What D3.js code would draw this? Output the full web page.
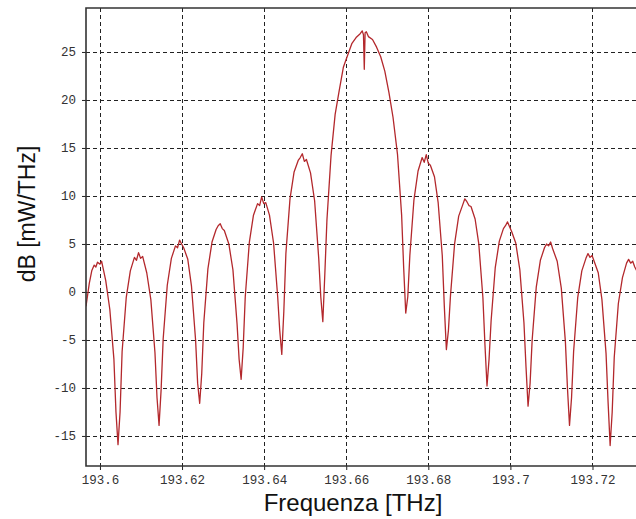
<!DOCTYPE html>
<html>
<head>
<meta charset="utf-8">
<script src="https://cdn.jsdelivr.net/npm/d3@7"></script>
<style>
  html, body { margin: 0; padding: 0; background: #fff; }
  svg { display: block; }
  .tick text { font-family: "Courier New", "Liberation Mono", monospace; font-size: 12.5px; fill: #333; }
  .title { font-family: Arial, "Liberation Sans", sans-serif; fill: #111; }
</style>
</head>
<body>
<svg id="chart" width="636" height="519"></svg>
<script>
// spectrum trace
const freqTHz = [
  193.5966, 193.5970, 193.5974, 193.5980, 193.5986, 193.5990, 193.5994, 193.6000, 193.6004, 193.6008,
  193.6014, 193.6024, 193.6034, 193.6039, 193.6044,
  193.6049, 193.6054, 193.6064, 193.6074, 193.6084, 193.6089, 193.6094, 193.6099, 193.6104, 193.6114,
  193.6124, 193.6134, 193.6139, 193.6144,
  193.6149, 193.6154, 193.6164, 193.6174, 193.6184, 193.6189, 193.6194, 193.6199, 193.6204, 193.6214,
  193.6223, 193.6233, 193.6238, 193.6243,
  193.6248, 193.6253, 193.6263, 193.6273, 193.6283, 193.6288, 193.6293, 193.6298, 193.6303, 193.6314,
  193.6324, 193.6334, 193.6339, 193.6344,
  193.6349, 193.6354, 193.6364, 193.6374, 193.6384, 193.6389, 193.6394, 193.6399, 193.6404, 193.6413,
  193.6423, 193.6433, 193.6438, 193.6443,
  193.6448, 193.6453, 193.6463, 193.6473, 193.6483, 193.6488, 193.6493, 193.6498, 193.6503, 193.6513,
  193.6523, 193.6533, 193.6538, 193.6543,
  193.6548, 193.6553, 193.6563, 193.6573, 193.6583, 193.6593, 193.6603, 193.6614, 193.6624, 193.6634,
  193.6639, 193.6642, 193.6644, 193.6646, 193.6649, 193.6654, 193.6664, 193.6674, 193.6684, 193.6694,
  193.6704, 193.6714, 193.6725, 193.6735, 193.6740, 193.6745,
  193.6750, 193.6755, 193.6765, 193.6775, 193.6785, 193.6790, 193.6795, 193.6800, 193.6805, 193.6815,
  193.6824, 193.6834, 193.6839, 193.6844,
  193.6849, 193.6854, 193.6864, 193.6874, 193.6884, 193.6889, 193.6894, 193.6899, 193.6904, 193.6914,
  193.6923, 193.6933, 193.6938, 193.6943,
  193.6948, 193.6953, 193.6963, 193.6973, 193.6983, 193.6988, 193.6993, 193.6998, 193.7003, 193.7013,
  193.7023, 193.7033, 193.7038, 193.7043,
  193.7048, 193.7053, 193.7063, 193.7073, 193.7083, 193.7088, 193.7093, 193.7098, 193.7103, 193.7114,
  193.7124, 193.7134, 193.7139, 193.7144,
  193.7149, 193.7154, 193.7164, 193.7174, 193.7184, 193.7189, 193.7194, 193.7199, 193.7204, 193.7214,
  193.7223, 193.7233, 193.7238, 193.7243,
  193.7248, 193.7253, 193.7263, 193.7273, 193.7283, 193.7288, 193.7293, 193.7298, 193.7303, 193.7308
];
const powerDb = [
  -1.5, -0.3, 0.9, 2.2, 2.8, 2.6, 3.1, 2.9, 3.2, 2.4,
  1.2, -1.8, -7.0, -12.5, -15.9,
  -12.5, -6.2, -0.6, 2.2, 3.6, 3.3, 4.1, 3.5, 3.7, 2.0,
  -0.8, -6.3, -11.0, -13.9,
  -10.2, -4.9, 0.7, 3.5, 4.8, 4.6, 5.4, 5.0, 4.6, 3.4,
  0.6, -5.0, -9.5, -11.6,
  -8.5, -3.2, 2.4, 5.2, 6.5, 6.9, 7.1, 6.6, 6.4, 5.0,
  2.3, -3.3, -7.0, -9.1,
  -5.8, -0.5, 5.2, 8.0, 9.2, 9.0, 9.9, 9.2, 9.3, 8.0,
  5.1, -0.5, -4.0, -6.5,
  -2.0, 4.0, 9.7, 12.5, 13.7, 14.0, 14.4, 13.6, 13.8, 12.4,
  9.5, 3.5, -0.5, -3.1,
  2.0, 7.5, 14.2, 18.5, 21.0, 23.4, 24.6, 25.9, 26.5, 26.9,
  27.2, 26.8, 23.2, 27.0, 27.1, 26.6, 26.3, 25.5, 24.5, 23.0,
  20.8, 18.2, 14.3, 8.0, 2.5, -2.2,
  -0.5, 3.8, 9.6, 12.6, 14.0, 13.5, 14.3, 13.4, 13.2, 12.0,
  9.3, 3.8, -1.5, -6.0,
  -4.0, -0.4, 5.0, 7.9, 9.1, 9.7, 9.4, 9.0, 8.9, 7.6,
  5.0, -0.6, -5.5, -9.8,
  -7.0, -3.0, 2.5, 5.3, 6.6, 6.9, 7.3, 6.8, 6.3, 5.1,
  2.3, -3.2, -7.8, -11.9,
  -9.5, -5.0, 0.5, 3.3, 4.6, 5.0, 4.8, 5.2, 4.5, 3.2,
  0.4, -5.2, -10.0, -13.9,
  -11.0, -6.2, -0.6, 2.2, 3.5, 4.0, 3.6, 3.8, 3.2, 2.0,
  -0.8, -6.4, -11.5, -16.0,
  -12.5, -6.8, -1.2, 1.5, 3.0, 3.4, 3.0, 3.2, 2.6, 2.2
];
const xTicks = [193.6, 193.62, 193.64, 193.66, 193.68, 193.7, 193.72];
const xTickLabels = ["193.6", "193.62", "193.64", "193.66", "193.68", "193.7", "193.72"];
const yTicks = [-15, -10, -5, 0, 5, 10, 15, 20, 25];

const svg = d3.select('#chart');
const plotLeft = 86, plotRight = 636, plotTop = 8, plotBottom = 466;

const x = d3.scaleLinear().domain([193.5966, 193.7306]).range([plotLeft, plotRight]);
const y = d3.scaleLinear().domain([-18.13, 29.58]).range([plotBottom, plotTop]);

svg.append('defs').append('clipPath').attr('id', 'plot-clip')
  .append('rect')
  .attr('x', plotLeft).attr('y', plotTop)
  .attr('width', plotRight - plotLeft).attr('height', plotBottom - plotTop);

// dashed grid
const grid = svg.append('g').attr('class', 'grid');
grid.selectAll('line.gx')
  .data(xTicks)
  .enter().append('line')
  .attr('class', 'gx')
  .attr('x1', d => Math.round(x(d)) + 0.5).attr('x2', d => Math.round(x(d)) + 0.5)
  .attr('y1', plotTop).attr('y2', plotBottom)
  .style('stroke', '#222')
  .style('stroke-width', '1px')
  .style('stroke-dasharray', '4,3');
grid.selectAll('line.gy')
  .data(yTicks)
  .enter().append('line')
  .attr('class', 'gy')
  .attr('x1', plotLeft).attr('x2', plotRight)
  .attr('y1', d => Math.round(y(d)) + 0.5).attr('y2', d => Math.round(y(d)) + 0.5)
  .style('stroke', '#222')
  .style('stroke-width', '1px')
  .style('stroke-dasharray', '4,3');

// trace
const line = d3.line()
  .x((d, i) => x(freqTHz[i]))
  .y(d => y(d));

svg.append('path')
  .datum(powerDb)
  .attr('clip-path', 'url(#plot-clip)')
  .attr('d', line)
  .style('fill', 'none')
  .style('stroke', '#b3282c')
  .style('stroke-width', '1.3px')
  .style('stroke-linejoin', 'round');

// axes
const xAxis = d3.axisBottom(x)
  .tickValues(xTicks)
  .tickFormat((d, i) => xTickLabels[i])
  .tickSize(4)
  .tickPadding(5);
const yAxis = d3.axisLeft(y)
  .tickValues(yTicks)
  .tickFormat(d => String(d))
  .tickSize(4)
  .tickPadding(6);

const gx = svg.append('g').attr('transform', `translate(0,${plotBottom})`).call(xAxis);
const gy = svg.append('g').attr('transform', `translate(${plotLeft},0)`).call(yAxis);
[gx, gy].forEach(g => {
  g.select('.domain').remove();
  g.selectAll('.tick line').style('stroke', '#222');
});

// frame: left, bottom and top edges (right edge falls outside the window)
svg.append('path')
  .attr('d', `M${plotRight},${plotTop}H${plotLeft}V${plotBottom}H${plotRight}`)
  .style('fill', 'none')
  .style('stroke', '#333')
  .style('stroke-width', '1.6px');

svg.append('text')
  .attr('class', 'title')
  .attr('x', 353).attr('y', 511)
  .attr('text-anchor', 'middle')
  .style('font-size', '24px')
  .text('Frequenza [THz]');

svg.append('text')
  .attr('class', 'title')
  .attr('transform', 'translate(35,214) rotate(-90)')
  .attr('text-anchor', 'middle')
  .style('font-size', '23px')
  .text('dB [mW/THz]');
</script>
</body>
</html>
